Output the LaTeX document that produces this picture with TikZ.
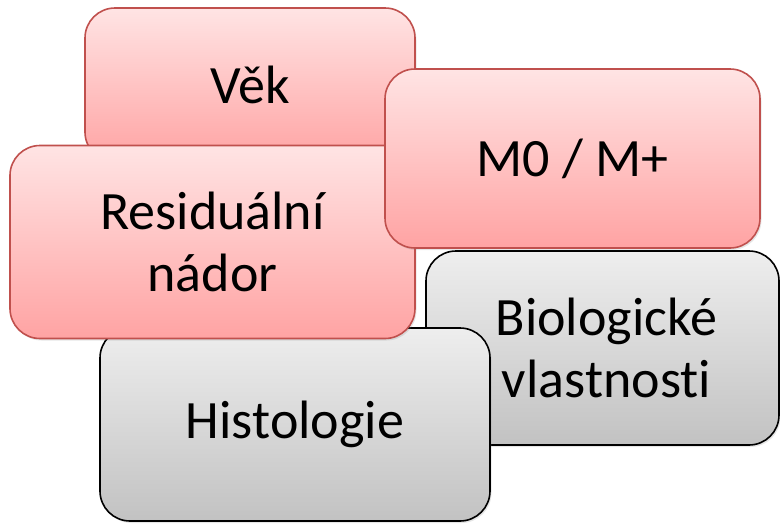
\documentclass[tikz,border=0pt]{standalone}
\usepackage{fontspec}
\setmainfont{Carlito}[Ligatures=NoCommon]
\usetikzlibrary{shadows}

\definecolor{pinkline}{HTML}{C0504D}
\definecolor{pinktop}{HTML}{FFE4E4}
\definecolor{pinkbot}{HTML}{FFA3A3}
\definecolor{graytop}{HTML}{EEEEEE}
\definecolor{graybot}{HTML}{C2C2C2}

\begin{document}
\begin{tikzpicture}[x=1pt, y=-1pt]
        \tikzstyle{every node}=[rectangle, rounded corners=30pt, inner sep=0pt, line width=1.6pt, align=center,
          font=\fontsize{54pt}{62pt}\selectfont,
          drop shadow={shadow xshift=1.5pt, shadow yshift=-2pt, opacity=0.2}]
        \tikzstyle{pinkbox}=[draw=pinkline, top color=pinktop, bottom color=pinkbot]
        \tikzstyle{graybox}=[draw=black, top color=graytop, bottom color=graybot]

        \useasboundingbox (0,0) rectangle (780,523);

        % Back Nodes
        \node[pinkbox, minimum width=330pt, minimum height=154pt] (vek) at (250,85) {Věk};
        \node[graybox, minimum width=353pt, minimum height=194pt] (biol) at (602.5,348) {\hspace*{8pt}Biologické\\\hspace*{8pt}vlastnosti};

        % Front Nodes
        \node[graybox, minimum width=390pt, minimum height=193pt] (hist) at (295,424.5) {Histologie};
        \node[pinkbox, minimum width=405pt, minimum height=193pt] (resid) at (212.5,242) {Residuální\\nádor};
        \node[pinkbox, minimum width=375pt, minimum height=179pt] (mzero) at (572.5,158.5) {M0 / M+};

      \end{tikzpicture}
\end{document}
